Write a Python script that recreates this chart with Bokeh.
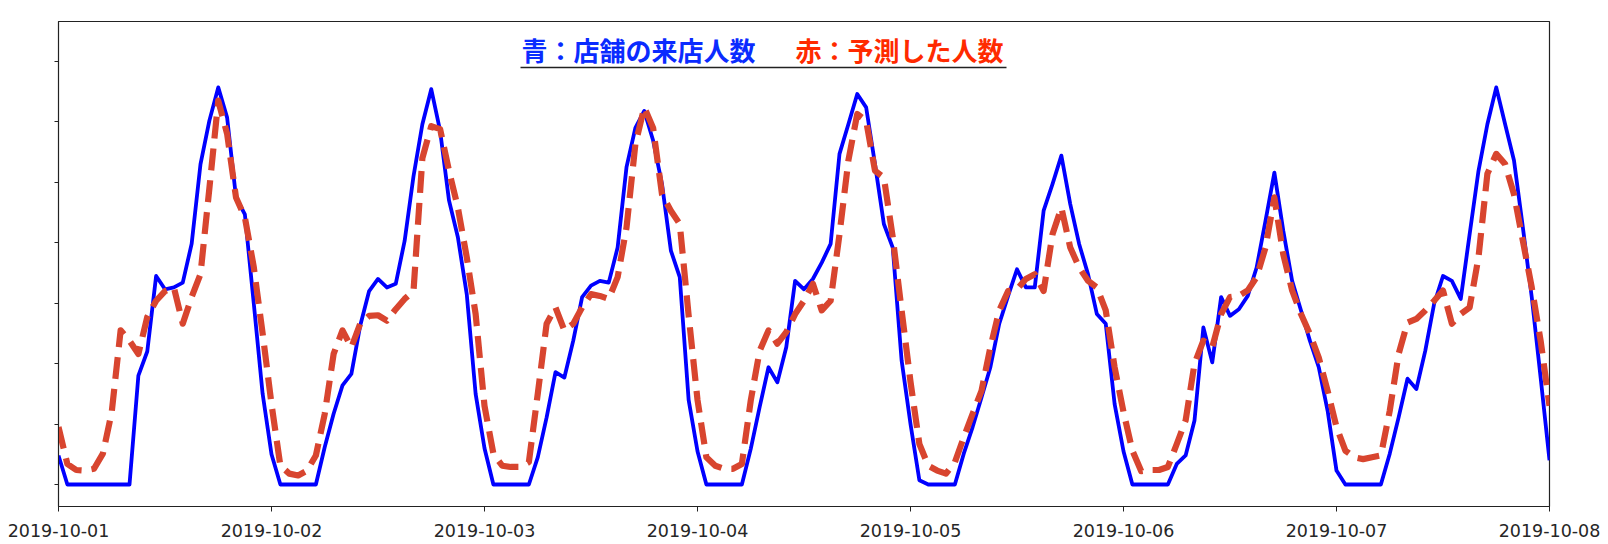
import pandas as pd
from bokeh.plotting import figure
from bokeh.models import Range1d, DaysTicker, DatetimeTickFormatter, FixedTicker, Label
from bokeh.embed import file_html
from bokeh.resources import INLINE

# ---- data: hourly visitors (blue) and predicted visitors (red), 2019-10-01 00:00 .. 2019-10-08 00:00
start = "2019-10-01"
visitors_d1 = [4.8, 0, 0, 0, 0, 0, 0, 0, 0, 18, 22, 34.5, 32.3, 32.6, 33.4, 39.8, 53, 60.2, 65.7, 60.7, 47.5, 44.7, 30, 15]
visitors_d2 = [5, 0, 0, 0, 0, 0, 6.2, 11.7, 16.4, 18.3, 26.3, 32, 34, 32.6, 33.2, 40.3, 51, 59.6, 65.4, 58.5, 47, 40.9, 31.5, 15]
visitors_d3 = [6, 0, 0, 0, 0, 0, 4.5, 11.1, 18.6, 17.7, 23.8, 31, 32.9, 33.7, 33.4, 39.2, 52.5, 59, 61.8, 56.9, 49.7, 38.7, 34.3, 14]
visitors_d4 = [5.5, 0, 0, 0, 0, 0, 5.9, 12.8, 19.4, 16.9, 22.7, 33.7, 32.3, 34, 36.7, 39.8, 54.7, 59.6, 64.6, 62.4, 53, 43.1, 39.2, 20.5]
visitors_d5 = [10, 0.7, 0, 0, 0, 0, 5.1, 9.5, 14.4, 19.4, 26.6, 31.2, 35.6, 32.6, 32.6, 45.3, 49.7, 54.4, 46.4, 39.8, 34.8, 28.2, 26.6, 13.3]
visitors_d6 = [5.5, 0, 0, 0, 0, 0, 3.4, 4.8, 10.6, 26, 20.2, 31, 27.9, 29, 31.2, 35.9, 43.6, 51.6, 42, 33.7, 28.8, 23.8, 19.4, 12.2]
visitors_d7 = [2.3, 0, 0, 0, 0, 0, 5.1, 11.1, 17.5, 15.8, 22.1, 29.9, 34.5, 33.7, 30.7, 41.4, 51.9, 59.6, 65.7, 59.6, 53.6, 42.5, 31, 17.7, 4]

predicted_d1 = [9.5, 3.4, 2.4, 2.3, 2.6, 5.1, 12, 25.5, 23.8, 21.6, 27.7, 30.4, 32, 32.6, 26.6, 31, 34.8, 49, 63.5, 58, 47.5, 44.2, 36, 25]
predicted_d2 = [13.3, 3.1, 1.8, 1.5, 2.3, 4.8, 11.7, 21.6, 25.5, 22.7, 26.6, 27.9, 28, 27.1, 29, 30.7, 32, 54, 59.3, 58.8, 51.9, 45.8, 37.6, 28.2]
predicted_d3 = [13, 5.1, 3.1, 2.9, 2.9, 3.7, 15, 26.6, 29.3, 25.5, 26.6, 29.3, 31.5, 31.2, 30.7, 34.3, 42.5, 56.3, 62.4, 59, 48, 45.3, 43.1, 28]
predicted_d4 = [14, 4.5, 3.1, 2.6, 2.6, 3.4, 13.9, 22.1, 25.5, 23.3, 25.2, 28.2, 30.4, 33.2, 28.8, 30.4, 41.4, 53.6, 61.3, 60.2, 51.9, 50.8, 40.9, 28.8]
predicted_d5 = [17, 6.7, 3.1, 2.3, 1.8, 3.7, 7.8, 11.7, 15.5, 22.7, 28.8, 32, 32.3, 34, 34.8, 32, 41.4, 45.8, 39.2, 35.9, 33.7, 32.6, 28.8, 19.4]
predicted_d6 = [12, 5.6, 2.2, 2.4, 2.4, 2.9, 6.7, 10.6, 20, 23.8, 22.7, 28.2, 31, 31.2, 32.1, 34.3, 39.2, 47.5, 38.1, 32.1, 28.2, 24.9, 21, 15.5]
predicted_d7 = [9.5, 5.6, 4.5, 4.2, 4.5, 4.8, 12.2, 21.6, 26.8, 27.4, 28.8, 30.4, 32.1, 26.6, 28.2, 29.3, 37.6, 51.4, 54.7, 53, 48, 40.3, 32.6, 23.8, 13]

y_ticks = [0, 10, 20, 30, 40, 50, 60, 70]
title_blue = "青：店舗の来店人数"
title_red = "赤：予測した人数"

visitors = visitors_d1 + visitors_d2 + visitors_d3 + visitors_d4 + visitors_d5 + visitors_d6 + visitors_d7
predicted = predicted_d1 + predicted_d2 + predicted_d3 + predicted_d4 + predicted_d5 + predicted_d6 + predicted_d7
times = pd.date_range(start, periods=len(visitors), freq="h")

# ---- layout
FW, FH = 1491, 485
BL, BR, BT, BB = 58, 51, 21, 38
t0 = pd.Timestamp("2019-10-01")
t1 = pd.Timestamp("2019-10-08")
y0, y1 = -3.64, 76.6

p = figure(x_axis_type="datetime", frame_width=FW, frame_height=FH,
           min_border_left=BL, min_border_right=BR, min_border_top=BT, min_border_bottom=BB,
           x_range=Range1d(t0, t1), y_range=Range1d(y0, y1),
           output_backend="svg", toolbar_location=None, background_fill_color="white",
           border_fill_color="white")
p.grid.visible = False
p.outline_line_color = "#222222"
p.outline_line_width = 1.2

p.xaxis.ticker = DaysTicker(days=list(range(1, 32)))
p.xaxis.formatter = DatetimeTickFormatter(days="%Y-%m-%d", months="%Y-%m-%d", hours="%Y-%m-%d")
p.xaxis.minor_tick_line_color = None
p.xaxis.major_tick_out = 5
p.xaxis.major_tick_in = 0
p.xaxis.major_label_text_font = "DejaVu Sans"
p.xaxis.major_label_text_font_size = "17.5px"
p.xaxis.major_label_text_color = "#262626"
p.xaxis.major_label_standoff = 12
p.xaxis.axis_line_color = "#222222"
p.xaxis.major_tick_line_color = "#222222"

p.yaxis.ticker = FixedTicker(ticks=y_ticks)
p.yaxis.minor_tick_line_color = None
p.yaxis.major_tick_out = 4
p.yaxis.major_tick_in = 0
p.yaxis.major_label_text_color = None
p.yaxis.major_label_text_font_size = "8px"
p.yaxis.axis_line_color = "#222222"
p.yaxis.major_tick_line_color = "#222222"

p.line(times, visitors, line_color="#0000ff", line_width=3.8, line_join="round")
p.line(times, predicted, line_color="#d8452f", line_width=6.2, line_dash="22 10",
       line_join="round", line_cap="butt")

# ---- title inside the plot (positions given in page pixels, converted to data)
def px_to_x(px):
    return t0 + (px - 58) / FW * (t1 - t0)

def py_to_y(py):
    return y0 + (506 - py) / FH * (y1 - y0)

p.add_layout(Label(x=px_to_x(521), y=py_to_y(48.5), text=title_blue,
                   text_font="Noto Sans CJK JP", text_font_style="bold", text_font_size="26px",
                   text_color="#0a2bff", text_baseline="middle", text_align="left"))
p.add_layout(Label(x=px_to_x(795), y=py_to_y(48.5), text=title_red,
                   text_font="Noto Sans CJK JP", text_font_style="bold", text_font_size="26px",
                   text_color="#ff2a00", text_baseline="middle", text_align="left"))
p.segment(x0=[px_to_x(520)], y0=[py_to_y(67)], x1=[px_to_x(1006)], y1=[py_to_y(67)],
          line_color="#222222", line_width=1.6)

open("out.html", "w").write(file_html(p, INLINE))
